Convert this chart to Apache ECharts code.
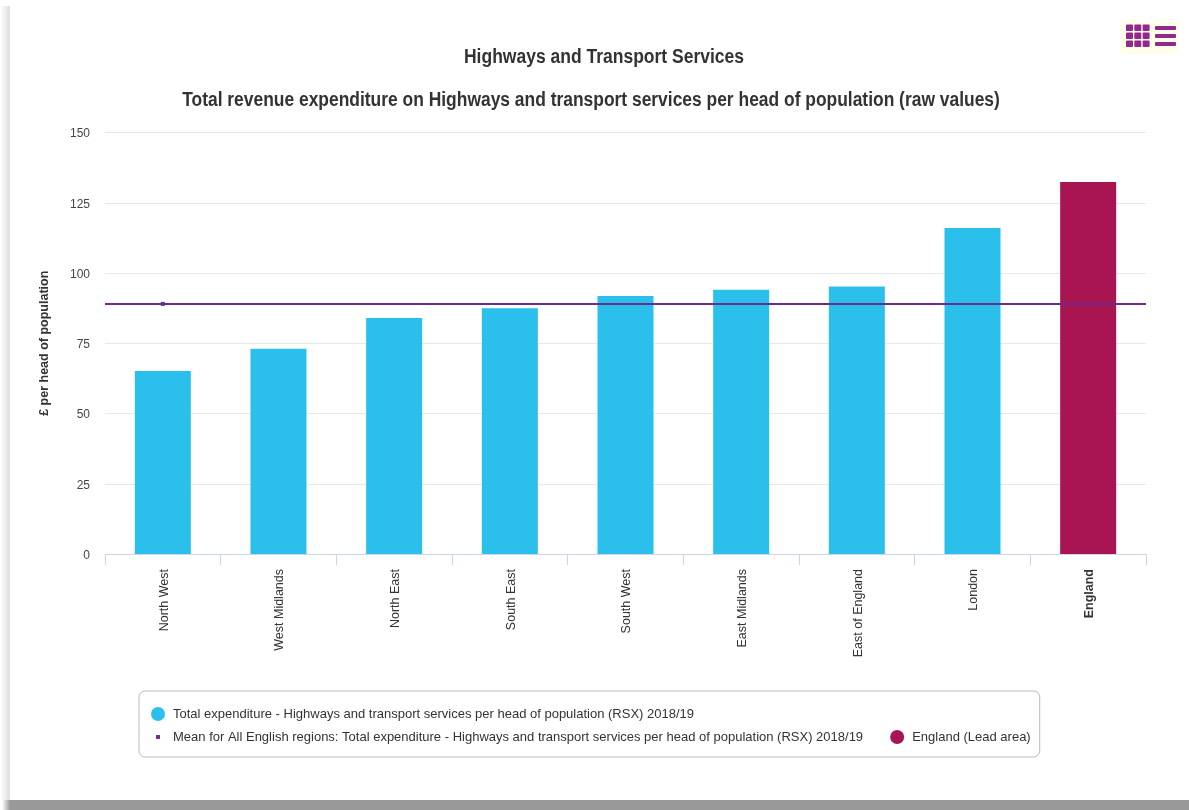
<!DOCTYPE html>
<html><head><meta charset="utf-8">
<style>
html,body{margin:0;padding:0;background:#fff;width:1189px;height:810px;overflow:hidden}
#c{position:absolute;left:0;top:0;width:1189px;height:810px}
</style>
<script src="https://cdn.jsdelivr.net/npm/echarts@6/dist/echarts.min.js"></script>
</head><body><div id="c"></div>
<script>
const categories=['North West','West Midlands','North East','South East','South West','East Midlands','East of England','London','England'];
const regionValues=[65.1,73,84,87.5,91.8,94,95.2,116,null];
const leadValues=[null,null,null,null,null,null,null,null,132.4];
const meanValue=89;
const meanValues=[89,null,null,null,null,null,null,null,null];
const yTicks={min:0,max:150,interval:25};
const titleMain='Highways and Transport Services';
const titleSub='Total revenue expenditure on Highways and transport services per head of population (raw values)';
const nameRegion='Total expenditure - Highways and transport services per head of population (RSX) 2018/19';
const nameMean='Mean for All English regions: Total expenditure - Highways and transport services per head of population (RSX) 2018/19';
const nameLead='England (Lead area)';
const FONT='"Liberation Sans",Arial,sans-serif';
const purple='#93278f';
const gfx=[];
const hGrad=(a,b)=>new echarts.graphic.LinearGradient(0,0,1,0,[{offset:0,color:a},{offset:1,color:b}]);
gfx.push({type:'rect',z:-5,shape:{x:10,y:800,width:1179,height:10},style:{fill:'#999999'}});
gfx.push({type:'rect',z:-5,shape:{x:2,y:800,width:8,height:10},style:{fill:hGrad('#ffffff','#999999')}});
gfx.push({type:'rect',z:-5,shape:{x:0,y:6,width:10,height:794},style:{fill:hGrad('#ffffff','#dedede')}});
gfx.push({type:'rect',shape:{x:1121,y:21,width:58,height:32},style:{fill:'#ffffe8'}});
for(let r=0;r<3;r++)for(let k=0;k<3;k++)
  gfx.push({type:'rect',shape:{x:1126+k*8.3,y:24.5+r*8,width:7,height:6.5,r:1},style:{fill:purple}});
for(let r=0;r<3;r++)
  gfx.push({type:'rect',shape:{x:1155,y:26+r*8,width:21,height:4,r:1},style:{fill:purple}});
gfx.push({type:'text',x:604,y:57.5,scaleX:0.875,style:{text:titleMain,align:'center',verticalAlign:'middle',fontFamily:FONT,fontSize:20,fontWeight:'bold',fill:'#333333'}});
gfx.push({type:'text',x:591,y:100.5,scaleX:0.871,style:{text:titleSub,align:'center',verticalAlign:'middle',fontFamily:FONT,fontSize:20,fontWeight:'bold',fill:'#333333'}});
const chart=echarts.init(document.getElementById('c'),null,{renderer:'canvas'});
chart.setOption({
  animation:false,
  backgroundColor:'#ffffff',
  grid:{left:105,right:43,top:132.5,bottom:256,containLabel:false},
  legend:{
    left:139,top:691,width:880,orient:'horizontal',
    padding:[16,9,13,12],itemGap:9,itemWidth:14,itemHeight:14,
    borderColor:'#bbbbbb',borderWidth:1,borderRadius:6,
    selectedMode:false,
    textStyle:{fontFamily:FONT,fontSize:13,color:'#333333',padding:[0,0,0,3]},
    formatter:n=>n===nameMean?n+'     ':n,
    data:[
      {name:nameRegion,icon:'circle'},
      {name:nameMean,icon:'path://M0 0L0 0M100 100L100 100M36 36H64V64H36Z'},
      {name:nameLead,icon:'circle'}
    ]
  },
  xAxis:{
    type:'category',
    data:categories,
    axisLine:{lineStyle:{color:'#ccd6eb',width:1}},
    axisTick:{show:true,length:11,alignWithLabel:false,lineStyle:{color:'#ccd6eb'}},
    axisLabel:{rotate:90,interval:0,margin:15,
      formatter:v=>v==='England'?'{b|'+v+'}':'{a|'+v+'}',
      rich:{
        a:{fontFamily:FONT,fontSize:12.5,color:'#333333',padding:[3,0,0,0]},
        b:{fontFamily:FONT,fontSize:12.5,fontWeight:'bold',color:'#333333',padding:[3,0,0,0]}
      }}
  },
  yAxis:{
    type:'value',...yTicks,
    name:'£ per head of population',nameLocation:'middle',nameGap:54,nameRotate:90,
    nameTextStyle:{fontFamily:FONT,fontSize:12.5,fontWeight:'bold',color:'#333333'},
    axisLine:{show:false},axisTick:{show:false},
    axisLabel:{margin:15,formatter:'{a|{value}}',
      rich:{a:{fontFamily:FONT,fontSize:12,color:'#444444',padding:[3,0,0,0]}}},
    splitLine:{lineStyle:{color:'#e8e8e8',width:1}}
  },
  series:[
    {name:nameRegion,type:'bar',data:regionValues,barWidth:56,barGap:'-100%',itemStyle:{color:'#2bbfeb'}},
    {name:nameLead,type:'bar',data:leadValues,barWidth:56,barGap:'-100%',itemStyle:{color:'#a81552'}},
    {name:nameMean,type:'line',data:meanValues,symbol:'rect',symbolSize:4,z:5,itemStyle:{color:'#6d2a8f'},lineStyle:{color:'#6d2a8f'},
     markLine:{silent:true,symbol:'none',label:{show:false},lineStyle:{color:'#6d2a8f',width:2,type:'solid'},data:[{yAxis:meanValue}]}}
  ],
  graphic:gfx
});
</script></body></html>
